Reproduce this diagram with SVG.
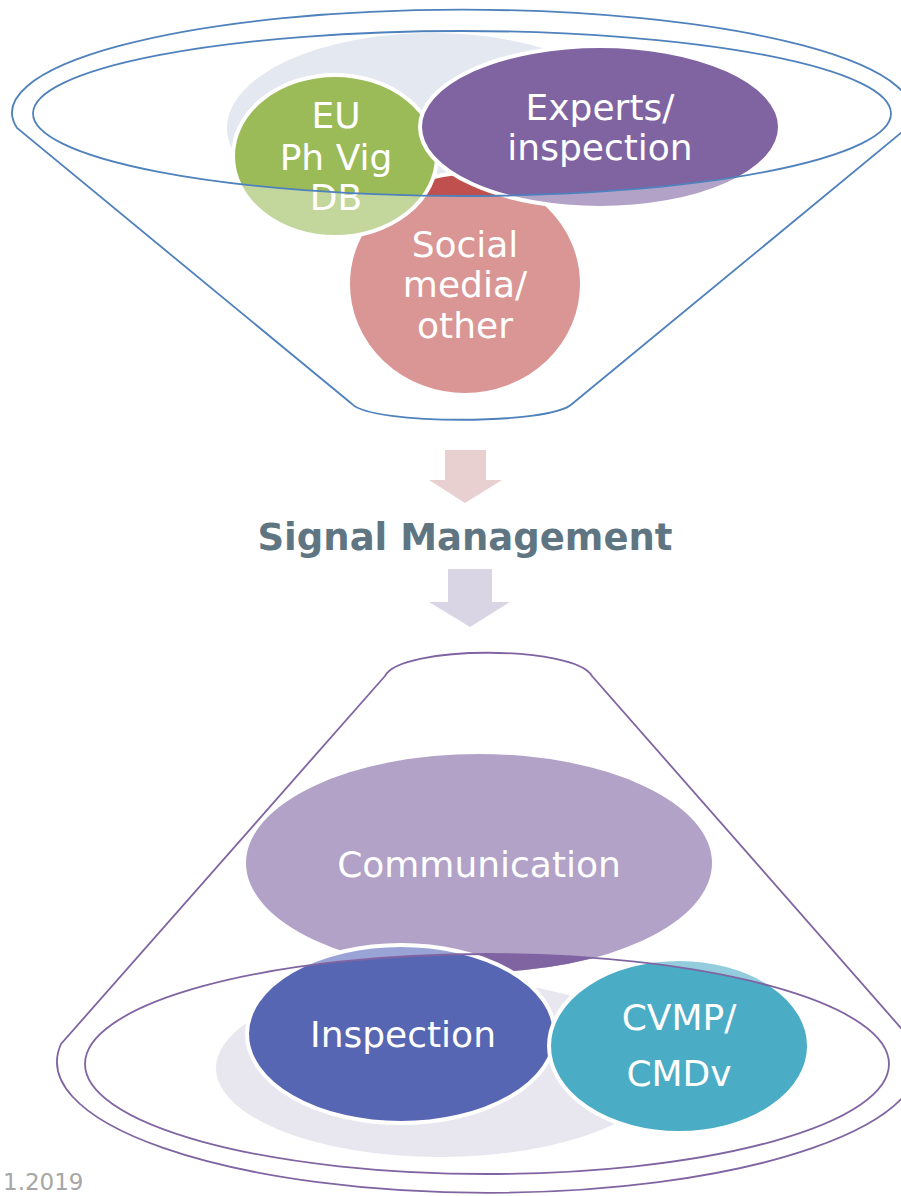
<svg xmlns="http://www.w3.org/2000/svg" width="901" height="1196" viewBox="0 0 901 1196">
  <style>
    .lbl { font-family: Verdana, "DejaVu Sans", sans-serif; font-size: 36px; fill: #ffffff; text-anchor: middle; }
    .rim { fill: none; stroke: #ffffff; stroke-width: 4; }
    .blue-line { fill: none; stroke: #4f81bd; stroke-width: 1.8; }
    .purple-line { fill: none; stroke: #8064a2; stroke-width: 1.8; }
  </style>
  <defs>
    <clipPath id="mouthTop">
      <ellipse cx="462" cy="113.5" rx="429" ry="82.5"/>
    </clipPath>
    <clipPath id="mouthBottom">
      <ellipse cx="487" cy="1064" rx="402" ry="110"/>
    </clipPath>
  </defs>
  <rect width="901" height="1196" fill="#ffffff"/>

  <!-- input funnel -->
  <g id="funnel-top">
    <path class="blue-line" d="M 17,128 A 450 103 0 1 1 907,128 L 572,404 C 550,425 372,425 352,404 Z"/>
  </g>

  <g id="funnel-top-backdrop">
    <ellipse cx="432" cy="128" rx="205" ry="95" fill="#e3e8f1"/>
  </g>

  <g id="node-social">
    <ellipse cx="465" cy="284" rx="117" ry="111" fill="#d99694"/>
    <ellipse cx="465" cy="284" rx="117" ry="111" fill="#c0504d" clip-path="url(#mouthTop)"/>
    <ellipse class="rim" cx="465" cy="284" rx="117" ry="111"/>
    <text class="lbl" x="465" y="257">Social</text>
    <text class="lbl" x="465" y="297">media/</text>
    <text class="lbl" x="465" y="338">other</text>
  </g>

  <g id="node-eu-db">
    <ellipse cx="335" cy="156" rx="102" ry="81" fill="#c3d69b"/>
    <ellipse cx="335" cy="156" rx="102" ry="81" fill="#9bbb59" clip-path="url(#mouthTop)"/>
    <ellipse class="rim" cx="335" cy="156" rx="102" ry="81"/>
    <text class="lbl" x="336" y="128">EU</text>
    <text class="lbl" x="336" y="170">Ph Vig</text>
    <text class="lbl" x="336" y="210">DB</text>
  </g>

  <g id="node-experts">
    <ellipse cx="600" cy="127" rx="180" ry="81" fill="#b2a2c7"/>
    <ellipse cx="600" cy="127" rx="180" ry="81" fill="#8064a2" clip-path="url(#mouthTop)"/>
    <ellipse class="rim" cx="600" cy="127" rx="180" ry="81"/>
    <text class="lbl" x="600" y="120">Experts/</text>
    <text class="lbl" x="600" y="160">inspection</text>
  </g>

  <g id="funnel-top-mouth">
    <ellipse class="blue-line" cx="462" cy="113.5" rx="429" ry="82.5"/>
  </g>

  <!-- flow arrows -->
  <g id="connectors">
    <path d="M 445,450 L 486,450 L 486,480 L 502,480 L 465,503 L 429,480 L 445,480 Z" fill="#e9d0d0"/>
    <path d="M 448,569 L 492,569 L 492,602 L 510,602 L 470,627 L 429,602 L 448,602 Z" fill="#d9d5e5"/>
  </g>

  <g id="title">
    <text x="465" y="550" font-family="Verdana, 'DejaVu Sans', sans-serif" font-size="37" font-weight="bold" fill="#607582" text-anchor="middle">Signal Management</text>
  </g>

  <!-- output cone -->
  <g id="cone-bottom">
    <path class="purple-line" d="M 385,676 L 61,1044 A 431 131 0 1 0 915,1044 L 592,676 C 575,645 400,645 385,676 Z"/>
  </g>

  <g id="node-communication">
    <ellipse cx="479" cy="863" rx="233" ry="109" fill="#b2a2c7"/>
    <ellipse cx="479" cy="863" rx="233" ry="109" fill="#8064a2" clip-path="url(#mouthBottom)"/>
    <text class="lbl" x="479" y="877">Communication</text>
  </g>

  <g id="cone-bottom-backdrop">
    <ellipse cx="440" cy="1068" rx="224" ry="89" fill="#e8e6ef"/>
  </g>

  <g id="node-inspection">
    <ellipse cx="401" cy="1034" rx="154" ry="89" fill="#9aa3d6"/>
    <ellipse cx="401" cy="1034" rx="154" ry="89" fill="#5766b2" clip-path="url(#mouthBottom)"/>
    <ellipse class="rim" cx="401" cy="1034" rx="154" ry="89"/>
    <text class="lbl" x="403" y="1047">Inspection</text>
  </g>

  <g id="node-cvmp">
    <ellipse cx="679" cy="1046" rx="130" ry="87" fill="#93cddd"/>
    <ellipse cx="679" cy="1046" rx="130" ry="87" fill="#4bacc6" clip-path="url(#mouthBottom)"/>
    <ellipse class="rim" cx="679" cy="1046" rx="130" ry="87"/>
    <text class="lbl" x="679" y="1030">CVMP/</text>
    <text class="lbl" x="679" y="1086">CMDv</text>
  </g>

  <g id="cone-bottom-mouth">
    <ellipse class="purple-line" cx="487" cy="1064" rx="402" ry="110"/>
  </g>

  <g id="footer">
    <text x="3" y="1190" font-family="Verdana, 'DejaVu Sans', sans-serif" font-size="23" fill="#a6a6a6">1.2019</text>
  </g>
</svg>
